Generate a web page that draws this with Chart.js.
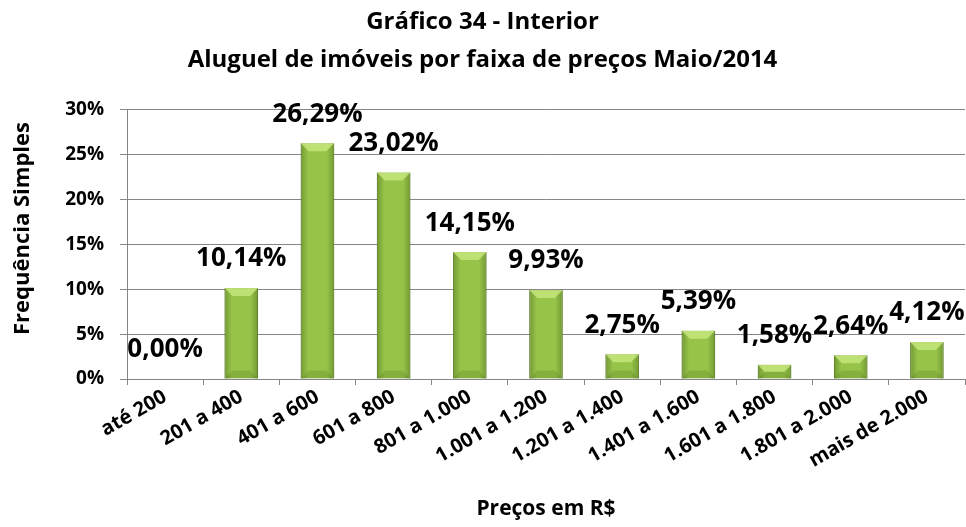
<!DOCTYPE html>
<html>
<head>
<meta charset="utf-8">
<script src="https://cdn.jsdelivr.net/npm/chart.js@4.4.1/dist/chart.umd.min.js"></script>
<style>
  html, body { margin: 0; padding: 0; background: #fff; }
  #wrap { width: 966px; height: 527px; }
</style>
</head>
<body>
<div id="wrap"><canvas id="chart"></canvas></div>
<script>
var faixas = ['até 200', '201 a 400', '401 a 600', '601 a 800', '801 a 1.000', '1.001 a 1.200',
              '1.201 a 1.400', '1.401 a 1.600', '1.601 a 1.800', '1.801 a 2.000', 'mais de 2.000'];
var frequencias = [0.00, 10.14, 26.29, 23.02, 14.15, 9.93, 2.75, 5.39, 1.58, 2.64, 4.12];
var yTicks = [0, 5, 10, 15, 20, 25, 30];

var fontFamily = '"Open Sans", sans-serif';

function pct(v) {
    return v.toFixed(2).replace('.', ',') + '%';
}

// light bevel on top, darker sides, like the office-style bars
var bevelBars = {
    id: 'bevelBars',
    afterDatasetsDraw: function(chart) {
        var ctx = chart.ctx;
        chart.getDatasetMeta(0).data.forEach(function(bar) {
            var left = bar.x - bar.width / 2, right = bar.x + bar.width / 2;
            var top = bar.y, bottom = bar.base;
            var h = bottom - top;
            if (h < 1) return;
            var d = Math.min(8, h / 2);

            ctx.save();
            var g = ctx.createLinearGradient(left, 0, right, 0);
            g.addColorStop(0, 'rgba(60,90,20,0.4)');
            g.addColorStop(0.22, 'rgba(60,90,20,0)');
            g.addColorStop(0.78, 'rgba(60,90,20,0)');
            g.addColorStop(1, 'rgba(60,90,20,0.4)');
            ctx.fillStyle = g;
            ctx.fillRect(left, top, right - left, h);

            // top facet
            ctx.beginPath();
            ctx.moveTo(left, top);
            ctx.lineTo(right, top);
            ctx.lineTo(right - d, top + d);
            ctx.lineTo(left + d, top + d);
            ctx.closePath();
            ctx.fillStyle = 'rgba(198,230,125,0.85)';
            ctx.fill();

            // bottom facet
            ctx.beginPath();
            ctx.moveTo(left, bottom);
            ctx.lineTo(right, bottom);
            ctx.lineTo(right - d, bottom - d);
            ctx.lineTo(left + d, bottom - d);
            ctx.closePath();
            ctx.fillStyle = 'rgba(70,100,25,0.2)';
            ctx.fill();
            ctx.restore();
        });
    }
};

// percentage labels above each bar
var valueLabels = {
    id: 'valueLabels',
    afterDatasetsDraw: function(chart) {
        var ctx = chart.ctx;
        ctx.save();
        ctx.font = 'bold 26px ' + fontFamily;
        ctx.fillStyle = '#000';
        ctx.textAlign = 'center';
        ctx.textBaseline = 'middle';
        chart.getDatasetMeta(0).data.forEach(function(bar, i) {
            ctx.fillText(pct(frequencias[i]), bar.x, bar.y - 29);
        });
        ctx.restore();
    }
};

// vertical axis title, sitting a bit above the middle of the plot
var yAxisTitle = {
    id: 'yAxisTitle',
    afterDraw: function(chart) {
        var ctx = chart.ctx;
        var area = chart.chartArea;
        ctx.save();
        ctx.translate(23, (area.top + area.bottom) / 2 - 16);
        ctx.rotate(-Math.PI / 2);
        ctx.font = 'bold 22px ' + fontFamily;
        ctx.fillStyle = '#000';
        ctx.textAlign = 'center';
        ctx.textBaseline = 'middle';
        ctx.fillText('Frequência Simples', 0, 0);
        ctx.restore();
    }
};

new Chart(document.getElementById('chart'), {
    type: 'bar',
    data: {
        labels: faixas,
        datasets: [{
            data: frequencias,
            backgroundColor: '#96C348',
            borderColor: '#74992F',
            borderWidth: 1,
            barPercentage: 0.44,
            categoryPercentage: 1
        }]
    },
    options: {
        responsive: true,
        maintainAspectRatio: false,
        animation: false,
        layout: { padding: { left: 0, right: 1, top: 0, bottom: 4 } },
        plugins: {
            legend: { display: false },
            tooltip: { enabled: false },
            title: {
                display: true,
                text: ['Gráfico 34 - Interior', 'Aluguel de imóveis por faixa de preços Maio/2014'],
                color: '#000',
                font: { family: fontFamily, size: 24, weight: 'bold', lineHeight: 1.583 },
                padding: { top: 3, bottom: 31 }
            }
        },
        scales: {
            x: {
                offset: true,
                afterFit: function(scale) { scale.height = 144; },
                grid: { display: true, drawOnChartArea: false, offset: true, color: '#868686', tickLength: 6 },
                border: { color: '#868686' },
                ticks: {
                    color: '#000',
                    font: { family: fontFamily, size: 20, weight: 'bold' },
                    minRotation: 30,
                    maxRotation: 30,
                    autoSkip: false,
                    padding: 0
                },
                title: {
                    display: true,
                    text: 'Preços em R$',
                    color: '#000',
                    font: { family: fontFamily, size: 21, weight: 'bold' },
                    padding: { top: 0, bottom: 1 }
                }
            },
            y: {
                min: 0,
                max: 30,
                afterBuildTicks: function(scale) {
                    scale.ticks = yTicks.map(function(v) { return { value: v }; });
                },
                afterFit: function(scale) { scale.width = 127; },
                grid: { color: '#868686', tickLength: 7 },
                border: { color: '#868686' },
                ticks: {
                    color: '#000',
                    font: { family: fontFamily, size: 19, weight: 'bold' },
                    padding: 16,
                    callback: function(v) { return v + '%'; }
                }
            }
        }
    },
    plugins: [bevelBars, valueLabels, yAxisTitle]
});
</script>
</body>
</html>
